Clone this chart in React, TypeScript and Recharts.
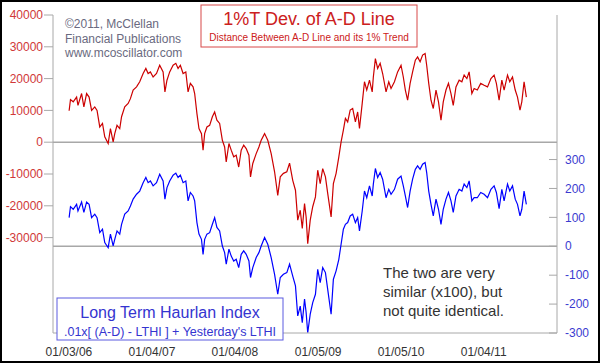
import React from 'react';
import { LineChart, Line, XAxis, YAxis, ReferenceLine } from 'recharts';

// trading days counted from 01/03/06
const days = [
  1, 7, 19, 34, 40, 56, 66, 78, 89, 100,
  114, 124, 136, 148, 158, 173, 183, 195, 202, 212,
  224, 232, 246, 261, 271, 283, 298, 312, 327, 339,
  349, 359, 371, 386, 400, 415, 423, 432, 444, 459,
  471, 481, 491, 503, 515, 525, 535, 547, 554, 564,
  573, 584, 591, 598, 608, 620, 632, 642, 652, 664,
  676, 686, 693, 705, 715, 726, 737, 748, 759, 770,
  781, 793, 800, 810, 825, 837, 847, 862, 876, 891,
  906, 920, 931, 945, 960,
  972, 986, 998, 1008, 1019, 1028, 1038, 1045, 1052, 1063,
  1074, 1086, 1096, 1107, 1118, 1130, 1140, 1155, 1165, 1177,
  1189, 1199, 1209, 1218, 1228, 1239, 1250, 1262, 1272, 1280,
  1292, 1302, 1312, 1324, 1336, 1341, 1350, 1360, 1371, 1382,
  1397, 1409, 1419, 1434, 1448, 1463, 1473, 1482, 1492, 1503,
  1514, 1526, 1536, 1547, 1558, 1569, 1576, 1585, 1595, 1605,
  1617, 1628, 1639, 1649, 1661, 1672, 1683, 1693, 1705, 1719,
  1731, 1741, 1753, 1763, 1775, 1785, 1799, 1814, 1829, 1844,
  1859, 1873, 1883, 1895, 1907, 1917, 1932, 1942, 1954, 1966,
  1976, 1987, 1995, 2005, 2015,
];

// 1%T deviation of the A-D line
const adDev = [
  9900, 13400, 12700, 14200, 11600, 15300, 11100, 15300, 14200, 10000,
  11100, 10000, 4800, 5900, 1700, -400, 4300, 100, 2700, 5300,
  4300, 8000, 11100, 12200, 13700, 16400, 17400, 19000, 21600, 23200,
  21600, 22100, 20500, 21600, 24200, 22100, 15800, 19500, 22100, 24200,
  24800, 23200, 24200, 21600, 22100, 15800, 18500, 17400, 15300, 9000,
  4300, 2700, -2500, 2700, 4800, 5300, 8000, 9500, 6900, 5900,
  600, -1500, -6200, -400, -2500, -4600, -4100, -7800, -2500, -900,
  -2000, -4100, -10900, -6700, -3600, -1500, 600, 2700, 600, -3600,
  -9300, -16700, -10900, -9800, -9300,
  -6600, -12000, -15100, -24500, -21400, -27100, -19300, -23500, -31900, -24500,
  -20300, -17200, -8800, -13000, -8300, -10900, -16100, -23500, -13000, -9800,
  -4600, 100, 3800, 7500, 6400, 10100, 10600, 6400, 9500, 4300,
  12200, 19000, 16400, 19500, 15800, 20500, 26300, 23200, 24800, 21600,
  15800, 19000, 16900, 19000, 22100, 24200, 20500, 16400, 13200, 18500,
  22100, 25800, 26800, 25300, 27400, 27900, 24200, 18500, 13200, 10600,
  16400, 12700, 6900, 12700, 16400, 18500, 15300, 11600, 17400, 19500,
  19000, 21100, 20000, 22100, 15300, 16900, 16400, 18500, 17900, 17400,
  20000, 21100, 18500, 13200, 19500, 16400, 21100, 19000, 20500, 16400,
  14200, 10100, 12700, 19000, 14200,
];

// Long Term Haurlan Index
const haurlan = [
  99, 137, 128, 145, 122, 153, 117, 153, 145, 99,
  111, 99, 47, 59, 13, -5, 42, 1, 24, 53,
  42, 76, 111, 122, 139, 163, 180, 191, 220, 238,
  220, 226, 209, 220, 249, 226, 163, 203, 226, 246,
  253, 238, 246, 220, 226, 157, 186, 174, 157, 82,
  42, 24, -28, 24, 42, 47, 76, 99, 65, 53,
  1, -22, -62, -10, -34, -51, -45, -74, -28, -16,
  -28, -51, -108, -74, -39, -22, 1, 30, 7, -39,
  -97, -166, -108, -97, -91,
  -62, -103, -137, -241, -207, -264, -183, -229, -299, -235,
  -195, -166, -80, -126, -74, -91, -149, -235, -114, -85,
  -45, 7, 59, 76, 82, 105, 111, 82, 99, 53,
  122, 191, 168, 209, 174, 215, 269, 238, 255, 232,
  168, 197, 180, 197, 232, 243, 209, 174, 134, 191,
  232, 266, 278, 266, 284, 290, 255, 191, 145, 105,
  163, 128, 76, 128, 163, 186, 157, 117, 174, 197,
  191, 215, 203, 226, 157, 168, 168, 186, 180, 168,
  197, 209, 186, 130, 197, 157, 215, 191, 209, 163,
  145, 105, 128, 191, 145,
];

const tickDays = [0, 366, 731, 1098, 1463, 1827];
const tickLabels = ['01/03/06', '01/04/07', '01/04/08', '01/05/09', '01/05/10', '01/04/11'];
const leftTicks = [-30000, -20000, -10000, 0, 10000, 20000, 30000, 40000];
const rightTicks = [-300, -200, -100, 0, 100, 200, 300];

const FONT = '"Liberation Sans", Arial, sans-serif';
const GRAY = '#a8a8a8';
const RED = '#cc0000';
const BLUE = '#0000ff';

const data = days.map((d, i) => ({ day: d, ad: adDev[i], lthi: haurlan[i] }));

const RightTick = (props: any) => {
  const { x, y, payload } = props;
  return (
    <g>
      <line x1={x - 16} x2={x - 8} y1={y} y2={y} stroke={GRAY} />
      <text x={x} y={y} dy="0.35em" fill="#3b3bd0" fontSize={12} fontFamily={FONT}>
        {payload.value}
      </text>
    </g>
  );
};

export default function App() {
  return (
    <div style={{ position: 'absolute', left: 0, top: 0, width: 600, height: 363, background: '#fff' }}>
      <LineChart width={600} height={363} data={data} margin={{ top: 15, right: 0, left: 0, bottom: 0 }}>
        <XAxis
          dataKey="day"
          type="number"
          domain={[-70, 2150]}
          allowDataOverflow
          ticks={tickDays}
          tickFormatter={(v: number) => tickLabels[tickDays.indexOf(v)] ?? ''}
          height={30}
          stroke={GRAY}
          tickLine={false}
          tickSize={6}
          tickMargin={8}
          tick={{ fill: '#333', fontSize: 12, fontFamily: FONT }}
        />
        <XAxis xAxisId="top" orientation="top" dataKey="day" type="number" domain={[-70, 2150]} height={0} tick={false} tickLine={false} stroke={GRAY} />
        <YAxis
          yAxisId="left"
          domain={[-60000, 40000]}
          allowDataOverflow
          ticks={leftTicks}
          width={53}
          stroke={GRAY}
          tickSize={9}
          tickMargin={1}
          tick={{ fill: '#d03838', fontSize: 12, fontFamily: FONT }}
        />
        <YAxis
          yAxisId="right"
          orientation="right"
          domain={[-300, 800]}
          allowDataOverflow
          ticks={rightTicks}
          width={43}
          stroke={GRAY}
          tickLine={false}
          tickSize={0}
          tickMargin={8}
          tick={<RightTick />}
        />
        <ReferenceLine yAxisId="left" y={0} stroke={GRAY} strokeWidth={1.5} />
        <ReferenceLine yAxisId="right" y={0} stroke={GRAY} strokeWidth={1.5} />
        <Line yAxisId="left" dataKey="ad" stroke={RED} strokeWidth={1.2} dot={false} isAnimationActive={false} />
        <Line yAxisId="right" dataKey="lthi" stroke={BLUE} strokeWidth={1.2} dot={false} isAnimationActive={false} />
      </LineChart>
      <svg width={600} height={363} style={{ position: 'absolute', left: 0, top: 0, pointerEvents: 'none' }} fontFamily={FONT}>
        <g fill="#6a6a80" fontSize={12}>
          <text x={65} y={28}>©2011, McClellan</text>
          <text x={65} y={43}>Financial Publications</text>
          <text x={65} y={57}>www.mcoscillator.com</text>
        </g>
        <rect x={201} y={5} width={216} height={42} fill="#fff" stroke="#d84848" />
        <text x={309} y={25} textAnchor="middle" fill="#cc2020" fontSize={18}>1%T Dev. of A-D Line</text>
        <text x={309} y={41} textAnchor="middle" fill="#cc2020" fontSize={10}>Distance Between A-D Line and its 1% Trend</text>
        <rect x={57} y={298} width={226} height={42} fill="#fff" stroke="#5a5ae0" />
        <text x={170} y={318} textAnchor="middle" fill="#3434d0" fontSize={16}>Long Term Haurlan Index</text>
        <text x={170} y={336} textAnchor="middle" fill="#3434d0" fontSize={12.5}>.01x[ (A-D) - LTHI ] + Yesterday's LTHI</text>
        <g fill="#333" fontSize={15}>
          <text x={383} y={278}>The two are very</text>
          <text x={383} y={297}>similar (x100), but</text>
          <text x={383} y={316}>not quite identical.</text>
        </g>
        <rect x={1} y={1} width={598} height={361} fill="none" stroke="#000" strokeWidth={2} />
      </svg>
    </div>
  );
}
